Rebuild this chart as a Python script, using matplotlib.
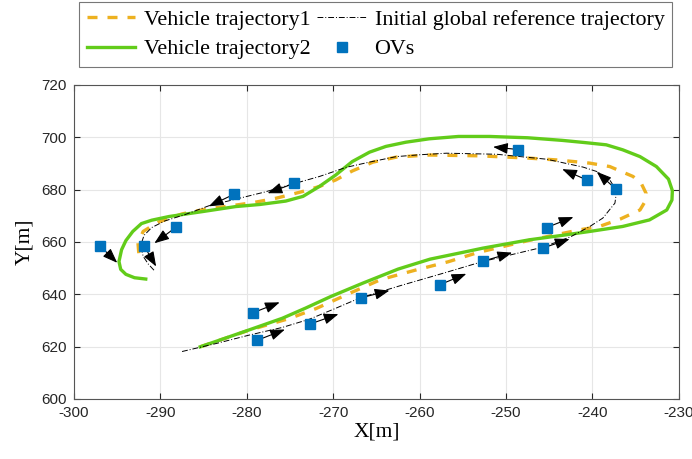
"""Vehicle trajectories vs. the initial global reference path, with surrounding vehicles (OVs)."""
import matplotlib

matplotlib.use("Agg")
import matplotlib.pyplot as plt

plt.rcParams["axes.unicode_minus"] = False

# Vehicle trajectory 1 (dashed orange)
traj1_x = [-285.4, -279.7, -275.0, -272.0, -268.0, -264.5, -260.5, -256.7, -253.2, -247.3,
           -241.5, -239.2, -236.8, -234.5, -233.9, -233.8, -234.3, -235.3, -238.0, -240.3,
           -244.0, -247.3, -253.1, -258.9, -260.0, -262.7, -265.4, -267.8, -269.7, -271.5,
           -273.5, -276.6, -279.3, -285.1, -287.5, -290.3, -292.0, -292.6, -292.5]
traj1_y = [619.9, 626.3, 630.8, 634.5, 640.5, 645.6, 649.2, 652.4, 656.0, 660.6,
           664.6, 665.9, 668.7, 672.2, 675.5, 678.6, 682.0, 685.0, 688.8, 690.1,
           691.3, 692.0, 692.9, 693.2, 693.0, 692.4, 690.5, 687.1, 683.7, 681.3,
           679.3, 676.7, 675.0, 672.3, 670.7, 667.5, 664.0, 659.5, 655.5]

# Vehicle trajectory 2 (solid green)
traj2_x = [-285.4, -282.5, -279.7, -275.9, -273.2, -270.3, -266.6, -262.5, -258.8, -255.0,
           -252.7, -247.3, -243.5, -240.3, -236.5, -233.4, -231.4, -230.8, -230.75, -231.2,
           -232.6, -234.5, -236.5, -238.4, -241.0, -243.5, -247.5, -251.9, -255.5, -258.9,
           -261.6, -263.9, -265.8, -267.8, -269.7, -271.6, -273.5, -275.5, -278.5, -281.3,
           -285.1, -289.0, -291.0, -292.2, -293.2, -294.0, -294.5, -294.8, -294.6, -294.0,
           -293.0, -291.7]
traj2_y = [619.9, 623.2, 626.4, 630.8, 634.7, 639.1, 644.2, 649.6, 653.4, 656.0,
           657.6, 660.8, 662.5, 664.0, 665.9, 668.4, 672.2, 676.0, 679.6, 684.0,
           688.8, 692.6, 695.2, 697.1, 698.0, 698.8, 699.8, 700.3, 700.3, 699.4,
           698.1, 696.5, 694.3, 690.7, 685.6, 681.2, 677.4, 675.6, 674.3, 673.5,
           671.6, 669.7, 668.3, 667.0, 664.0, 660.5, 657.0, 652.5, 649.5, 647.6,
           646.3, 645.8]

# Initial global reference trajectory (black dash-dot)
ref_x = [-287.5, -283.5, -279.7, -275.9, -272.8, -269.8, -266.9, -262.0, -257.5, -252.7,
         -248.5, -245.7, -242.5, -240.3, -238.8, -237.4, -237.2, -238.0, -239.5, -241.1,
         -245.3, -251.1, -256.9, -260.0, -262.7, -265.8, -268.5, -271.6, -274.5, -278.0,
         -281.7, -284.4, -287.1, -289.5, -291.0, -291.9, -292.3, -292.0, -291.4, -290.7]
ref_y = [618.1, 621.2, 624.4, 627.3, 630.4, 634.5, 638.6, 643.5, 647.8, 652.5,
         655.8, 658.0, 662.0, 665.9, 669.1, 674.8, 679.5, 683.7, 686.9, 688.6,
         691.6, 693.5, 693.9, 693.3, 692.6, 690.5, 688.5, 685.0, 682.3, 679.0,
         676.0, 673.8, 670.5, 668.0, 665.5, 662.5, 658.5, 654.5, 651.5, 649.0]

# Other vehicles: position and displacement shown by the arrow
ov_x = [-297.0, -291.9, -288.2, -281.5, -274.5, -248.6, -240.6, -237.3,
        -245.3, -245.7, -252.7, -257.7, -266.8, -272.7, -279.3, -278.8]
ov_y = [658.5, 658.5, 665.6, 678.2, 682.4, 695.3, 683.6, 680.2,
        665.5, 657.7, 652.6, 643.6, 638.6, 628.6, 632.9, 622.4]
ov_dx = [2.0, 1.4, -2.5, -2.9, -3.1, -2.9, -2.9, -2.2,
         3.1, 3.05, 3.4, 3.1, 3.3, 3.3, 3.1, 3.2]
ov_dy = [-6.5, -7.9, -6.1, -4.6, -3.8, 1.0, 4.2, 6.6,
         4.0, 3.4, 3.3, 4.2, 2.8, 3.8, 4.0, 4.1]

x_ticks = list(range(-300, -229, 10))
y_ticks = list(range(600, 721, 20))

SERIF = ["Liberation Serif", "DejaVu Serif"]
SANS = ["Liberation Sans", "DejaVu Sans"]

fig = plt.figure(figsize=(6.92, 4.59), dpi=100)
ax = fig.add_axes([0.107, 0.131, 0.874, 0.684])

h1, = ax.plot(traj1_x, traj1_y, color="#EDB120", lw=2.4, ls=(0, (3.0, 3.0)),
              label="Vehicle trajectory1", zorder=3)
h2, = ax.plot(traj2_x, traj2_y, color="#62cc1a", lw=2.4, ls="-",
              solid_joinstyle="round", label="Vehicle trajectory2", zorder=4)
h3, = ax.plot(ref_x, ref_y, color="black", lw=0.7, ls=(0, (6, 2, 1, 2)),
              label="Initial global reference trajectory", zorder=5)

for x, y, dx, dy in zip(ov_x, ov_y, ov_dx, ov_dy):
    ax.annotate("", xy=(x + dx, y + dy), xytext=(x, y),
                arrowprops=dict(arrowstyle="-|>,head_length=0.75,head_width=0.28",
                                color="black", lw=0.8, mutation_scale=12,
                                shrinkA=0, shrinkB=0),
                zorder=6)
h4, = ax.plot(ov_x, ov_y, ls="none", marker="s", ms=6.5, color="#0072BD",
              markeredgecolor="#0072BD", label="OVs", zorder=7)

ax.set_xlim(-300, -230)
ax.set_ylim(600, 720)
ax.set_xticks(x_ticks)
ax.set_yticks(y_ticks)
ax.grid(True, color="#e6e6e6", lw=0.8)
ax.set_axisbelow(True)
ax.tick_params(direction="in", top=True, right=True, length=4, width=0.8,
               colors="#262626", labelsize=11, pad=5)
for lab in ax.get_xticklabels() + ax.get_yticklabels():
    lab.set_family(SANS)
for sp in ax.spines.values():
    sp.set_color("#555555")
    sp.set_linewidth(0.8)

ax.set_xlabel("X[m]", family=SERIF, fontsize=15.5, labelpad=2)
ax.set_ylabel("Y[m]", family=SERIF, fontsize=15.5, labelpad=5)

leg = fig.legend(handles=[h1, h2, h3, h4], loc="upper center",
                 bbox_to_anchor=(0.543, 0.996), ncol=2, fancybox=False,
                 framealpha=1, edgecolor="#777777", borderpad=0.35, borderaxespad=0,
                 handlelength=2.2, handletextpad=0.4, columnspacing=0.3,
                 labelspacing=0.42, prop={"family": SERIF, "size": 15.8})
leg.get_frame().set_linewidth(0.8)

fig.savefig("out.png", dpi=100)
